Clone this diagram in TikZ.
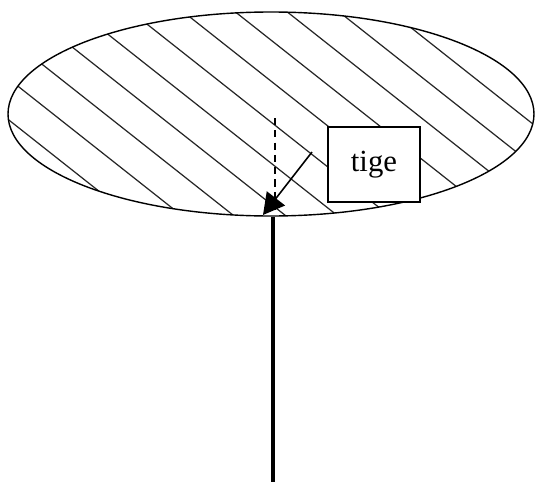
\documentclass[tikz,border=0pt]{standalone}
\usepackage{fontspec}
\setmainfont{Liberation Serif}
\usetikzlibrary{arrows.meta}
\begin{document}
\begin{tikzpicture}[x=0.02cm,y=-0.02cm]
  \useasboundingbox (0,0) rectangle (542,487);
  % Hatched cap
  \begin{scope}
    \clip (271,114) ellipse (263 and 102);
    \foreach \k in {-5,...,5}
      \draw[line width=0.7pt, black!85] (0,-92+41*\k) -- (542,{0.79*542-92+41*\k});
  \end{scope}
  \draw[line width=0.8pt] (271,114) ellipse (263 and 102);
  % Stem and its hidden part
  \coordinate (top) at (273,217);
  \coordinate (foot) at (273,482);
  \coordinate (mid) at (275,118);
  \coordinate (low) at (275,210);
  \draw[line width=2.2pt] (top) -- (foot);
  \draw[line width=0.7pt, dash pattern=on 4pt off 3pt] (mid) -- (low);
  % Label and arrow
  \node[draw, fill=white, line width=1pt, minimum width=92*0.02cm, minimum height=75*0.02cm,
        inner sep=0pt, font=\fontsize{17.5}{20}\selectfont] (tige) at (374,164.5) {tige};
  \coordinate (tail) at (312,152);
  \coordinate (tip) at (263,215);
  \draw[-{Triangle[length=12pt,width=13pt]}, line width=0.9pt] (tail) -- (tip);
\end{tikzpicture}
\end{document}
